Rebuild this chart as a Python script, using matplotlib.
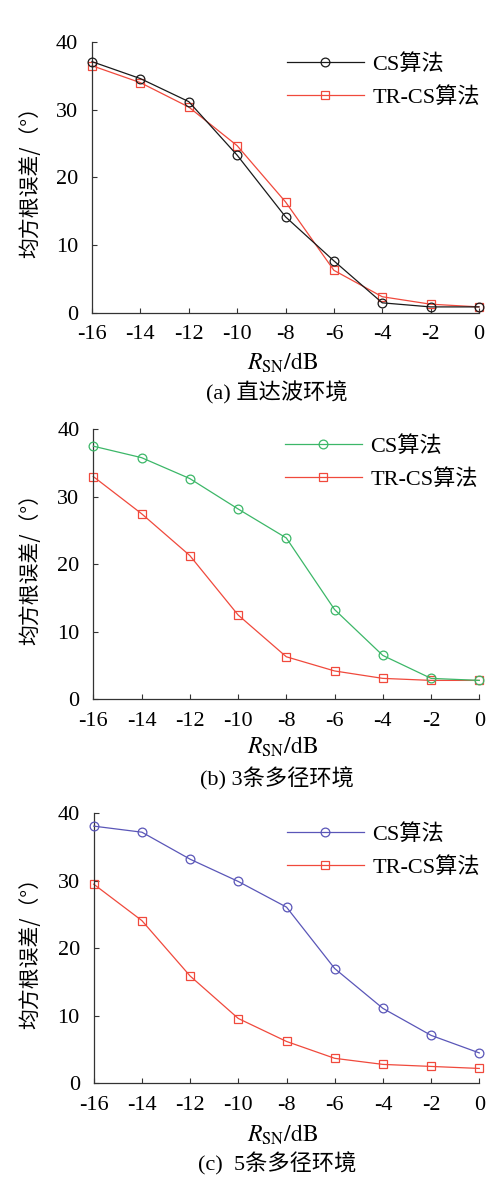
import matplotlib
matplotlib.use("Agg")
import matplotlib.pyplot as plt

snr = [-16, -14, -12, -10, -8, -6, -4, -2, 0]
xticks = [-16, -14, -12, -10, -8, -6, -4, -2, 0]
yticks = [0, 10, 20, 30, 40]

cs_a = [37.1, 34.6, 31.2, 23.3, 14.2, 7.7, 1.5, 0.9, 0.9]
tr_a = [36.5, 34.0, 30.4, 24.7, 16.4, 6.3, 2.4, 1.3, 0.9]

cs_b = [37.5, 35.8, 32.7, 28.2, 23.9, 13.3, 6.5, 3.1, 2.8]
tr_b = [33.0, 27.5, 21.3, 12.5, 6.3, 4.2, 3.1, 2.8, 2.8]

cs_c = [38.1, 37.2, 33.2, 29.9, 26.1, 17.0, 11.1, 7.1, 4.5]
tr_c = [29.5, 24.1, 15.9, 9.6, 6.2, 3.7, 2.8, 2.5, 2.2]

cs_colors = ["#1a1a1a", "#3cb768", "#5a56b8"]
tr_color = "#f0493c"
captions = ["(a) 直达波环境", "(b) 3条多径环境", "(c)  5条多径环境"]
legend_labels = ["CS算法", "TR-CS算法"]
ylabel = "均方根误差/（°）"

plt.rcParams['mathtext.fontset'] = 'stix'
SERIF = ['Liberation Serif', 'Noto Sans CJK SC']
CJK = ['Noto Sans CJK SC', 'Liberation Serif']

W, H = 501, 1181
fig = plt.figure(figsize=(W / 100, H / 100), dpi=100, facecolor='white')

# pixel boxes: left, right, top(y=40), bottom(y=0)
boxes = [(92, 479, 42, 313), (93.3, 479.3, 429.3, 699.3), (93.7, 479.3, 813.3, 1083.3)]
legend_anchor = [(287, 54), (285, 436), (287, 824)]
xlabel_y = [363, 747, 1135]
caption_y = [393, 779, 1164]

datasets = [(cs_a, tr_a), (cs_b, tr_b), (cs_c, tr_c)]

def fx(x):
    return x / W

def fy(y):
    return 1 - y / H

for i, ((l, r, t, b), (cs, tr)) in enumerate(zip(boxes, datasets)):
    ax = fig.add_axes([fx(l), fy(b), (r - l) / W, (b - t) / H])
    ax.set_facecolor('white')
    ax.plot(snr, cs, color=cs_colors[i], lw=0.9, marker='o', ms=6.3,
            mfc='none', mec=cs_colors[i], mew=0.9, label=legend_labels[0], clip_on=False, zorder=3)
    ax.plot(snr, tr, color=tr_color, lw=0.9, marker='s', ms=6.3,
            mfc='none', mec=tr_color, mew=0.9, label=legend_labels[1], clip_on=False, zorder=2)
    ax.set_xlim(-16, 0)
    ax.set_ylim(0, 40)
    ax.set_xticks(xticks)
    ax.set_yticks(yticks)
    ax.set_xticklabels([str(v) for v in xticks], fontfamily='Liberation Serif', fontsize=16)
    ax.set_yticklabels([str(v) for v in yticks], fontfamily='Liberation Serif', fontsize=16)
    ax.tick_params(axis='both', direction='in', length=3.5, width=0.8, color='#333333')
    ax.tick_params(axis='x', pad=9)
    ax.tick_params(axis='y', pad=10)
    for s in ['top', 'right']:
        ax.spines[s].set_visible(False)
    for s in ['left', 'bottom']:
        ax.spines[s].set_linewidth(0.9)
        ax.spines[s].set_color('#333333')
    lx, ly = legend_anchor[i]
    ax.legend(loc='upper left', bbox_to_anchor=(fx(lx), fy(ly)), bbox_transform=fig.transFigure,
              frameon=False, borderpad=0, borderaxespad=0, handlelength=3.45, handletextpad=0.4,
              labelspacing=0.55, prop={'family': SERIF, 'size': 16})
    fig.text(fx(30), fy((t + b) / 2), ylabel, rotation=90, ha='center', va='center',
             family=CJK, fontsize=15)
    fig.text(fx(283), fy(xlabel_y[i]), r"$R_{\mathrm{SN}}\mathrm{/dB}$", ha='center', va='center',
             fontsize=17)
    fig.text(fx(277), fy(caption_y[i]), captions[i], ha='center', va='center',
             family=SERIF, fontsize=16)

fig.savefig('out.png', dpi=100, facecolor='white')
